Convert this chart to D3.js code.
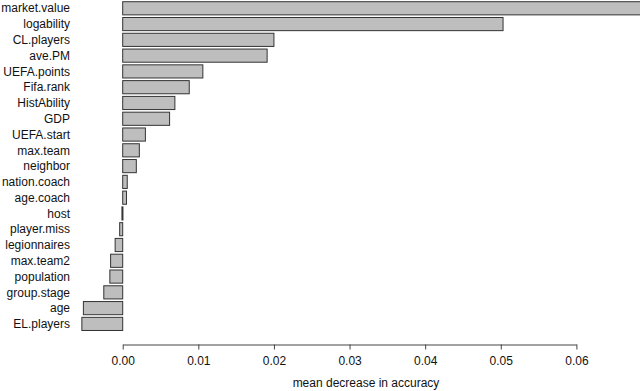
<!DOCTYPE html>
<html>
<head>
<meta charset="utf-8">
<script src="https://cdn.jsdelivr.net/npm/d3@7"></script>
<style>
  body { margin: 0; background: #fff; }
  svg { display: block; font-family: "Liberation Sans", Arial, sans-serif; }
</style>
</head>
<body>
<svg width="640" height="391"></svg>
<script>
  const variables = ['market.value', 'logability', 'CL.players', 'ave.PM', 'UEFA.points',
    'Fifa.rank', 'HistAbility', 'GDP', 'UEFA.start', 'max.team', 'neighbor',
    'nation.coach', 'age.coach', 'host', 'player.miss', 'legionnaires',
    'max.team2', 'population', 'group.stage', 'age', 'EL.players'];
  const accuracy = [0.0700, 0.0503, 0.0200, 0.0191, 0.0106,
    0.0088, 0.0069, 0.0062, 0.0030, 0.0022, 0.0018,
    0.0006, 0.0005, -0.0001, -0.0004, -0.0010,
    -0.0016, -0.0017, -0.0025, -0.0052, -0.0054];
  const tickValues = [0, 0.01, 0.02, 0.03, 0.04, 0.05, 0.06];
  const xAxisLabelText = 'mean decrease in accuracy';

  const data = variables.map((name, i) => ({ name, value: accuracy[i] }));

  const svg = d3.select('svg');
  const width = +svg.attr('width');

  const xScale = d3.scaleLinear()
    .domain([0, 0.06])
    .range([122.7, 576.4]);

  const yScale = d3.scaleBand()
    .domain(variables)
    .range([0.4, 331.8])
    .paddingInner(1 / 6)
    .paddingOuter(1 / 12);

  svg.append('clipPath').attr('id', 'plot-clip')
    .append('rect')
      .attr('x', 0).attr('y', 0)
      .attr('width', width).attr('height', 340);

  svg.append('g')
    .attr('clip-path', 'url(#plot-clip)')
    .selectAll('rect').data(data)
    .enter().append('rect')
      .attr('x', d => xScale(Math.min(0, d.value)))
      .attr('y', d => yScale(d.name))
      .attr('width', d => Math.max(1, Math.abs(xScale(d.value) - xScale(0))))
      .attr('height', yScale.bandwidth())
      .attr('fill', '#bebebe')
      .attr('stroke', '#333')
      .attr('stroke-width', 1);

  svg.append('g')
    .selectAll('text').data(data)
    .enter().append('text')
      .attr('x', 70)
      .attr('y', d => yScale(d.name) + yScale.bandwidth() / 2)
      .attr('dy', '0.35em')
      .attr('text-anchor', 'end')
      .attr('font-size', 12)
      .attr('fill', '#111')
      .text(d => d.name);

  const xAxis = d3.axisBottom(xScale)
    .tickValues(tickValues)
    .tickFormat(d3.format('.2f'))
    .tickSizeInner(5)
    .tickSizeOuter(0)
    .tickPadding(7);

  const xAxisG = svg.append('g')
    .attr('transform', 'translate(0,344.5)')
    .call(xAxis);

  xAxisG.selectAll('path, line').attr('stroke', '#444');
  xAxisG.selectAll('text')
    .attr('font-size', 12)
    .attr('font-family', '"Liberation Sans", Arial, sans-serif')
    .attr('fill', '#111');

  svg.append('text')
    .attr('x', 366)
    .attr('y', 387)
    .attr('text-anchor', 'middle')
    .attr('font-size', 12)
    .attr('fill', '#111')
    .text(xAxisLabelText);
</script>
</body>
</html>
